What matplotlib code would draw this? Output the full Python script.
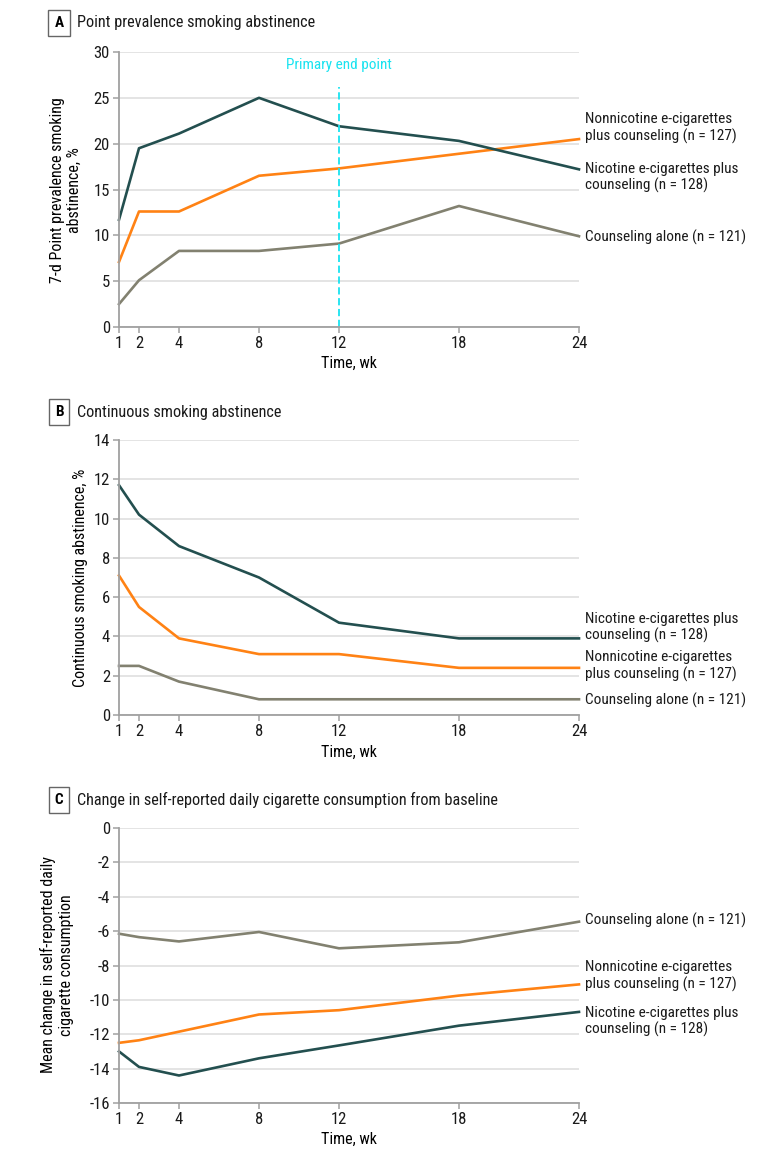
import matplotlib
matplotlib.use('Agg')
import matplotlib.pyplot as plt

plt.rcParams['font.family'] = ['Roboto Condensed', 'Lato', 'DejaVu Sans']

weeks = [1, 2, 4, 8, 12, 18, 24]

# A: point prevalence smoking abstinence, %
a_nicotine = [11.7, 19.5, 21.1, 25.0, 21.9, 20.3, 17.2]
a_nonnicotine = [7.1, 12.6, 12.6, 16.5, 17.3, 18.9, 20.5]
a_counseling = [2.5, 5.1, 8.3, 8.3, 9.1, 13.2, 9.9]

# B: continuous smoking abstinence, %
b_nicotine = [11.7, 10.2, 8.6, 7.0, 4.7, 3.9, 3.9]
b_nonnicotine = [7.1, 5.5, 3.9, 3.1, 3.1, 2.4, 2.4]
b_counseling = [2.5, 2.5, 1.7, 0.8, 0.8, 0.8, 0.8]

# C: mean change in daily cigarette consumption
c_nicotine = [-13.0, -13.9, -14.4, -13.4, -12.65, -11.5, -10.7]
c_nonnicotine = [-12.5, -12.35, -11.85, -10.85, -10.6, -9.75, -9.1]
c_counseling = [-6.15, -6.35, -6.6, -6.05, -7.0, -6.65, -5.45]

lab_nic = 'Nicotine e-cigarettes plus\ncounseling (n = 128)'
lab_non = 'Nonnicotine e-cigarettes\nplus counseling (n = 127)'
lab_cou = 'Counseling alone (n = 121)'

green = '#234f4f'
orange = '#ff8214'
olive = '#828170'
cyan = '#19e3f0'
grid = '#dcdcdc'
spine = '#a0a0a0'
fs = 10.5

fig = plt.figure(figsize=(7.8, 11.58), dpi=100)

L, W = 119 / 780, 460 / 780
H = 275 / 1158
axA = fig.add_axes([L, 1 - 327 / 1158, W, H])
axB = fig.add_axes([L, 1 - 715 / 1158, W, H])
axC = fig.add_axes([L, 1 - 1103 / 1158, W, H])


def style(ax, ylim, yticks):
    ax.set_xlim(1, 24)
    ax.set_ylim(*ylim)
    ax.set_xticks(weeks)
    ax.set_yticks(yticks)
    ax.set_yticklabels([str(t) for t in yticks])
    for s in ['top', 'right']:
        ax.spines[s].set_visible(False)
    for s in ['left', 'bottom']:
        ax.spines[s].set_color(spine)
        ax.spines[s].set_linewidth(1.3)
    ax.tick_params(colors=spine, labelcolor='#1a1a1a', labelsize=12, length=4, width=1.1, pad=2.5)
    ax.grid(axis='y', color=grid, linewidth=1.1)
    ax.set_axisbelow(True)


def lines(ax, nic, non, cou):
    ax.plot(weeks, cou, color=olive, lw=1.9, clip_on=False)
    ax.plot(weeks, non, color=orange, lw=1.9, clip_on=False)
    ax.plot(weeks, nic, color=green, lw=1.9, clip_on=False)


def side_label(ax, y, text):
    ax.text(24.3, y, text, fontsize=fs + 0.5, va='center', ha='left', color='#1a1a1a', linespacing=1.2)


def header(y, letter, title):
    fig.text(59 / 780, 1 - y / 1158, letter, fontsize=fs + 0.5, fontweight='bold', ha='center', va='center',
             bbox=dict(boxstyle='square,pad=0.4', fc='white', ec='#666666', lw=1))
    fig.text(77 / 780, 1 - y / 1158, title, fontsize=fs + 1.2, ha='left', va='center', color='#1a1a1a')


# Panel A
style(axA, (0, 30), [0, 5, 10, 15, 20, 25, 30])
lines(axA, a_nicotine, a_nonnicotine, a_counseling)
axA.plot([12, 12], [0, 26.2], color=cyan, lw=1.3, ls=(0, (4, 2)))
axA.text(12, 28.6, 'Primary end point', color=cyan, fontsize=fs + 0.5, ha='center', va='center')
side_label(axA, 21.7, lab_non)
side_label(axA, 16.3, lab_nic)
side_label(axA, 9.8, lab_cou)
header(23, 'A', 'Point prevalence smoking abstinence')
fig.text(66 / 780, 1 - 190 / 1158, '7-d Point prevalence smoking\nabstinence, %', rotation=90,
         fontsize=fs + 1, ha='center', va='center', multialignment='center')
fig.text(349 / 780, 1 - 363 / 1158, 'Time, wk', fontsize=fs + 1, ha='center', va='center')

# Panel B
style(axB, (0, 14), [0, 2, 4, 6, 8, 10, 12, 14])
lines(axB, b_nicotine, b_nonnicotine, b_counseling)
side_label(axB, 4.45, lab_nic)
side_label(axB, 2.5, lab_non)
side_label(axB, 0.75, lab_cou)
header(412, 'B', 'Continuous smoking abstinence')
fig.text(81 / 780, 1 - 578 / 1158, 'Continuous smoking abstinence, %', rotation=90,
         fontsize=fs + 1, ha='center', va='center')
fig.text(349 / 780, 1 - 752 / 1158, 'Time, wk', fontsize=fs + 1, ha='center', va='center')

# Panel C
style(axC, (-16, 0), [0, -2, -4, -6, -8, -10, -12, -14, -16])
lines(axC, c_nicotine, c_nonnicotine, c_counseling)
side_label(axC, -5.35, lab_cou)
side_label(axC, -8.6, lab_non)
side_label(axC, -11.25, lab_nic)
header(800, 'C', 'Change in self-reported daily cigarette consumption from baseline')
fig.text(57 / 780, 1 - 965 / 1158, 'Mean change in self-reported daily\ncigarette consumption', rotation=90,
         fontsize=fs + 1, ha='center', va='center', multialignment='center')
fig.text(349 / 780, 1 - 1139 / 1158, 'Time, wk', fontsize=fs + 1, ha='center', va='center')

fig.savefig('out.png', dpi=100)
